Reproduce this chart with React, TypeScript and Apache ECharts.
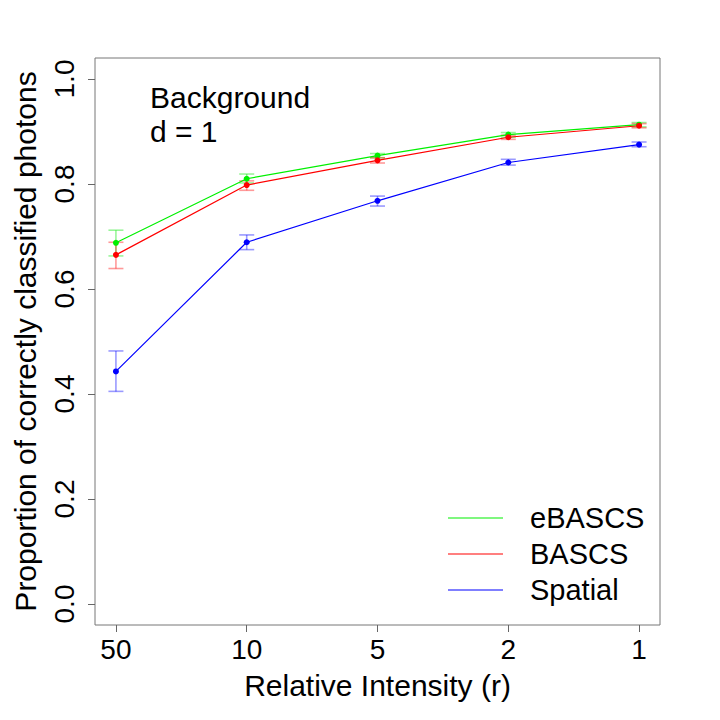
import React, { useEffect, useRef } from "react";
import * as echarts from "echarts";

const intensities = ["50", "10", "5", "2", "1"];
const xPositions = [1, 2, 3, 4, 5];
const yTicks = [0, 0.2, 0.4, 0.6, 0.8, 1.0];

const seriesNames = ["eBASCS", "BASCS", "Spatial"];
const seriesColors = ["#00f000", "#ff0000", "#0000ff"];
const errColors = ["rgba(0,230,0,0.4)", "rgba(255,0,0,0.4)", "rgba(0,0,255,0.4)"];

const eBASCSMean = [0.688, 0.810, 0.854, 0.894, 0.913];
const eBASCSLow = [0.663, 0.802, 0.850, 0.889, 0.909];
const eBASCSHigh = [0.712, 0.819, 0.858, 0.898, 0.917];

const BASCSMean = [0.665, 0.798, 0.845, 0.889, 0.911];
const BASCSLow = [0.639, 0.788, 0.840, 0.885, 0.907];
const BASCSHigh = [0.689, 0.806, 0.850, 0.893, 0.915];

const spatialMean = [0.443, 0.689, 0.768, 0.841, 0.875];
const spatialLow = [0.405, 0.675, 0.758, 0.836, 0.871];
const spatialHigh = [0.482, 0.703, 0.777, 0.847, 0.880];

const FONT = "Liberation Sans, Arial, Helvetica, sans-serif";

export default function App() {
  const ref = useRef<HTMLDivElement>(null);
  useEffect(() => {
    if (!ref.current) return;
    const chart = echarts.init(ref.current, undefined, { renderer: "svg" });
    const means = [eBASCSMean, BASCSMean, spatialMean];
    const lows = [eBASCSLow, BASCSLow, spatialLow];
    const highs = [eBASCSHigh, BASCSHigh, spatialHigh];

    const errSeries = seriesNames.map((name, i) => ({
      type: "custom",
      name: name + " error",
      data: xPositions.map((x, j) => [x, lows[i][j], highs[i][j]]),
      renderItem: (params: any, api: any) => {
        const x = api.value(0);
        const lo = api.coord([x, api.value(1)]);
        const hi = api.coord([x, api.value(2)]);
        const w = 7.5;
        const style = { stroke: errColors[i], lineWidth: 1.6, fill: "none" };
        return {
          type: "group",
          children: [
            { type: "line", shape: { x1: lo[0], y1: lo[1], x2: hi[0], y2: hi[1] }, style },
            { type: "line", shape: { x1: lo[0] - w, y1: lo[1], x2: lo[0] + w, y2: lo[1] }, style },
            { type: "line", shape: { x1: hi[0] - w, y1: hi[1], x2: hi[0] + w, y2: hi[1] }, style },
          ],
        };
      },
      z: 2,
      silent: true,
    }));

    const lineSeries = seriesNames.map((name, i) => ({
      type: "line",
      name,
      data: xPositions.map((x, j) => [x, means[i][j]]),
      color: seriesColors[i],
      symbol: "circle",
      symbolSize: 6,
      showSymbol: true,
      lineStyle: { width: 1.2, color: seriesColors[i] },
      itemStyle: { color: seriesColors[i] },
      z: 3,
    }));

    chart.setOption({
      animation: false,
      backgroundColor: "#ffffff",
      textStyle: { fontFamily: FONT },
      grid: {
        left: 95,
        right: 60,
        top: 58,
        bottom: 95,
        show: true,
        borderColor: "#777",
        borderWidth: 1,
        backgroundColor: "transparent",
      },
      xAxis: {
        type: "value",
        min: 0.84,
        max: 5.16,
        name: "Relative Intensity (r)",
        nameLocation: "middle",
        nameGap: 45,
        nameTextStyle: { fontSize: 30, color: "#000", fontFamily: FONT },
        axisLine: { show: false, onZero: false },
        splitLine: { show: false },
        axisTick: {
          show: true,
          inside: false,
          length: 7,
          lineStyle: { color: "#666" },
          customValues: xPositions,
        },
        axisLabel: {
          customValues: xPositions,
          formatter: (v: number) => intensities[Math.round(v) - 1] ?? "",
          fontSize: 28,
          color: "#000",
          margin: 10,
          fontFamily: FONT,
        },
      },
      yAxis: {
        type: "value",
        min: -0.04,
        max: 1.04,
        name: "Proportion of correctly classified photons",
        nameLocation: "middle",
        nameGap: 55,
        nameTextStyle: { fontSize: 30, color: "#000", fontFamily: FONT },
        axisLine: { show: false, onZero: false },
        splitLine: { show: false },
        axisTick: {
          show: true,
          inside: false,
          length: 7,
          lineStyle: { color: "#666" },
          customValues: yTicks,
        },
        axisLabel: {
          customValues: yTicks,
          rotate: 90,
          formatter: (v: number) => v.toFixed(1),
          fontSize: 28,
          color: "#000",
          margin: 17,
          fontFamily: FONT,
        },
      },
      legend: {
        data: seriesNames,
        orient: "vertical",
        left: 443,
        top: 495,
        icon: "rect",
        itemWidth: 55,
        itemHeight: 1.2,
        itemGap: 0,
        selectedMode: false,
        textStyle: {
          fontSize: 29,
          color: "#000",
          lineHeight: 36,
          padding: [0, 0, 0, 22],
          fontFamily: FONT,
        },
      },
      graphic: [
        {
          type: "text",
          left: 150,
          top: 82,
          style: {
            text: "Background",
            fontSize: 30,
            fill: "#000",
            fontFamily: FONT,
          },
        },
        {
          type: "text",
          left: 150,
          top: 116,
          style: {
            text: "d = 1",
            fontSize: 30,
            fill: "#000",
            fontFamily: FONT,
          },
        },
      ],
      series: [...errSeries, ...lineSeries],
    });
    return () => chart.dispose();
  }, []);
  return (
    <div
      ref={ref}
      style={{ position: "absolute", left: 0, top: 0, width: 720, height: 720, background: "#fff" }}
    />
  );
}
